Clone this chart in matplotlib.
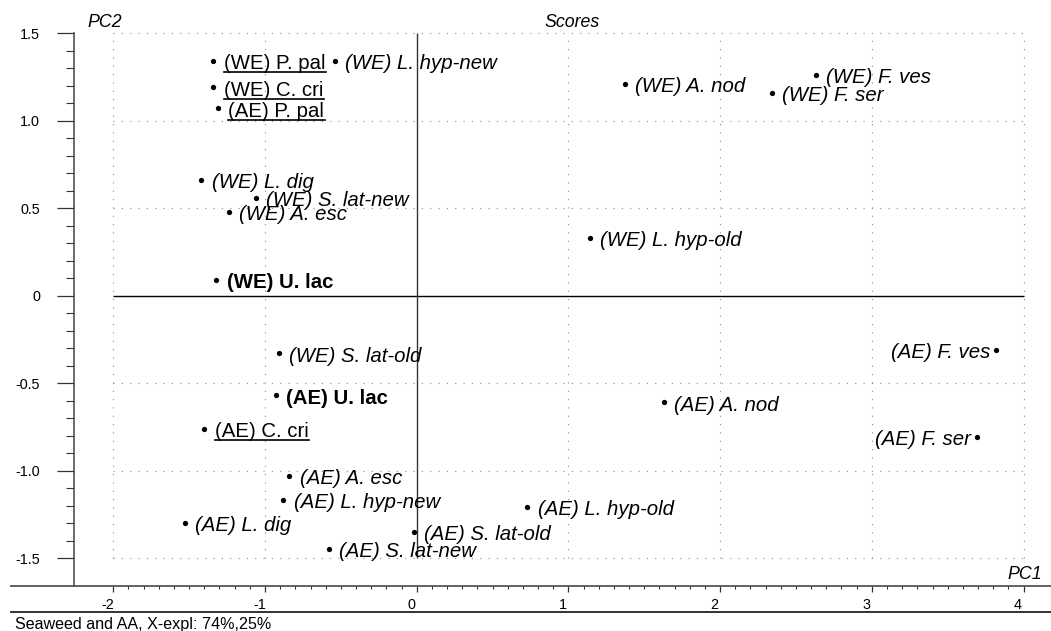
import numpy as np
import matplotlib
matplotlib.use("Agg")
import matplotlib.pyplot as plt
from matplotlib.lines import Line2D
from matplotlib.transforms import ScaledTranslation

plt.rcParams["font.family"] = "Liberation Sans"
plt.rcParams["axes.unicode_minus"] = False

# PCA scores
samples = ["(WE) P. pal", "(WE) L. hyp-new", "(WE) C. cri", "(AE) P. pal",
           "(WE) A. nod", "(WE) F. ves", "(WE) F. ser", "(WE) L. dig",
           "(WE) S. lat-new", "(WE) A. esc", "(WE) L. hyp-old", "(WE) U. lac",
           "(WE) S. lat-old", "(AE) F. ves", "(AE) U. lac", "(AE) A. nod",
           "(AE) C. cri", "(AE) F. ser", "(AE) A. esc", "(AE) L. hyp-new",
           "(AE) L. hyp-old", "(AE) L. dig", "(AE) S. lat-old", "(AE) S. lat-new"]
pc1 = [-1.34, -0.54, -1.34, -1.31, 1.37, 2.63, 2.34, -1.42,
       -1.06, -1.24, 1.14, -1.32, -0.91, 3.82, -0.93, 1.63,
       -1.40, 3.69, -0.84, -0.88, 0.73, -1.53, -0.02, -0.58]
pc2 = [1.34, 1.34, 1.19, 1.07, 1.21, 1.26, 1.16, 0.66,
       0.56, 0.48, 0.33, 0.09, -0.33, -0.31, -0.57, -0.61,
       -0.76, -0.81, -1.03, -1.17, -1.21, -1.30, -1.35, -1.45]

underlined = ["(WE) P. pal", "(WE) C. cri", "(AE) P. pal", "(AE) C. cri"]
bold = ["(WE) U. lac", "(AE) U. lac"]
left_labels = ["(AE) F. ves", "(AE) F. ser"]

x_ticks = [-2, -1, 0, 1, 2, 3, 4]
x_ticklabels = ["-2", "-1", "0", "1", "2", "3", "4"]
y_ticks = [-1.5, -1.0, -0.5, 0, 0.5, 1.0, 1.5]
y_ticklabels = ["-1.5", "-1.0", "-0.5", "0", "0.5", "1.0", "1.5"]

W, H = 1051, 631
fig = plt.figure(figsize=(W / 100, H / 100), dpi=100)
ax = fig.add_axes([73.7 / W, (H - 586) / H, 1 - 73.7 / W, 586 / H])
ax.set_xlim(-2.261, 4.181)
ax.set_ylim(-1.659, 1.690)

# dotted grid inside the [-2,4] x [-1.5,1.5] box
grid_style = dict(colors="#8c8c8c", linestyles=(0, (1, 6.5)), linewidth=0.8, zorder=0)
ax.vlines([t for t in x_ticks if t != 0], -1.5, 1.5, **grid_style)
ax.hlines([t for t in y_ticks if t != 0], -2, 4, **grid_style)
ax.hlines(0, -2, 4, colors="black", linewidth=1.0, zorder=1)
ax.vlines(0, -1.5, 1.5, colors="#333333", linewidth=1.0, zorder=1)

ax.plot(pc1, pc2, linestyle="none", marker="o", ms=3.8, mew=0, color="black", zorder=3)

labels = {}
for name, x, y in zip(samples, pc1, pc2):
    kw = dict(fontsize=14.7, va="baseline", color="black", textcoords="offset points")
    if name in bold:
        kw["weight"] = "bold"
    elif name not in underlined:
        kw["style"] = "italic"
    if name in left_labels:
        t = ax.annotate(name, (x, y), xytext=(-4, -5.8), ha="right", **kw)
    else:
        t = ax.annotate(name, (x, y), xytext=(7.5, -5.8), ha="left", **kw)
    labels[name] = t

# axes styling
for s in ["top", "right"]:
    ax.spines[s].set_visible(False)
ax.spines["left"].set_bounds(-1.659, 1.5)
ax.spines["left"].set_linewidth(1.1)
ax.spines["left"].set_color("#444444")
ax.spines["bottom"].set_linewidth(1.3)
ax.spines["bottom"].set_color("#555555")

ax.set_xticks(x_ticks)
ax.set_xticklabels(x_ticklabels)
ax.set_xticks(np.arange(-20, 41) / 10, minor=True)
ax.set_yticks(y_ticks)
ax.set_yticklabels(y_ticklabels)
ax.set_yticks(np.arange(-15, 16) / 10, minor=True)
ax.tick_params(axis="x", which="major", direction="out", length=4.6, width=0.9,
               pad=4.3, labelsize=10.4, color="#333333")
ax.tick_params(axis="x", which="minor", direction="out", length=1.8, width=0.8, color="#333333")
ax.tick_params(axis="y", which="major", direction="out", length=12.2, width=0.9,
               pad=12, labelsize=10.4, color="#333333")
ax.tick_params(axis="y", which="minor", direction="out", length=5.5, width=0.8, color="#333333")

shift = ScaledTranslation(-0.055, 0, fig.dpi_scale_trans)
for lab in ax.get_xticklabels():
    lab.set_transform(lab.get_transform() + shift)

# extra lines: bottom axis extension and separator above the caption
fig.add_artist(Line2D([11 / W, 73.7 / W], [(H - 586) / H] * 2, color="#555555", lw=1.3))
fig.add_artist(Line2D([11 / W, 1], [(H - 612) / H] * 2, color="#222222", lw=1.3))

fig.text(571.7 / W, (H - 27.3) / H, "Scores", ha="center", va="baseline", style="italic", fontsize=12.8)
fig.text(87.3 / W, (H - 27.3) / H, "PC2", ha="left", va="baseline", style="italic", fontsize=12.8)
fig.text(1041.7 / W, (H - 579.3) / H, "PC1", ha="right", va="baseline", style="italic", fontsize=12.8)
fig.text(15 / W, (H - 629) / H, "Seaweed and AA, X-expl: 74%,25%", ha="left", va="baseline", fontsize=11.6)

# underline the plain labels
fig.canvas.draw()
renderer = fig.canvas.get_renderer()
inv = fig.transFigure.inverted()
for name in underlined:
    bb = labels[name].get_window_extent(renderer)
    yl = bb.y0 + 1.0
    p = inv.transform([(bb.x0, yl), (bb.x1 + 1, yl)])
    fig.add_artist(Line2D(p[:, 0], p[:, 1], color="black", lw=1.2))

fig.savefig("out.png", dpi=100)
